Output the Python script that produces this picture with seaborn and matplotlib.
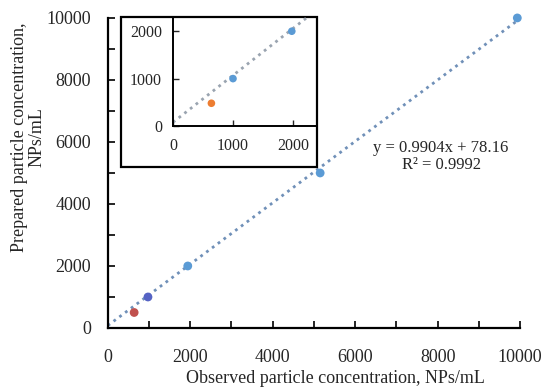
import matplotlib
matplotlib.use("Agg")
import matplotlib.pyplot as plt
import seaborn as sns
import numpy as np
import pandas as pd
from matplotlib.patches import Rectangle

sns.set_theme(style="ticks")
plt.rcParams['font.family'] = ['Liberation Serif', 'DejaVu Serif']

# data
observed = [640, 975, 1940, 5150, 9930]
prepared = [500, 1000, 2000, 5000, 10000]
point_colors = ["#C0504D", "#5563C4", "#5B9BD5", "#5B9BD5", "#5B9BD5"]
inset_observed = [640, 1000, 1980]
inset_prepared = [480, 1000, 2000]
inset_colors = ["#ED7D31", "#5B9BD5", "#5B9BD5"]
slope, intercept = 0.9904, 78.16
main_ticks = [0, 2000, 4000, 6000, 8000, 10000]
inset_ticks = [0, 1000, 2000]

df = pd.DataFrame({"obs": observed, "prep": prepared, "c": point_colors})
dfi = pd.DataFrame({"obs": inset_observed, "prep": inset_prepared, "c": inset_colors})

fig = plt.figure(figsize=(5.47, 3.90), dpi=100)
ax = fig.add_axes([0.197, 0.159, 0.754, 0.795])

lx = np.array([0, 10000])
sns.lineplot(x=lx, y=slope * lx + intercept, ax=ax, color="#7090B8",
             linestyle=(0, (1, 1.6)), linewidth=2.0, zorder=1)
sns.scatterplot(data=df, x="obs", y="prep", hue="c", palette={c: c for c in point_colors},
                legend=False, ax=ax, s=40, edgecolor="none", zorder=3, clip_on=False)
ax.set_xlim(0, 10000)
ax.set_ylim(0, 10000)
ax.set_xticks(main_ticks)
ax.set_yticks(main_ticks)
ax.set_xticks(np.arange(1000, 10000, 2000), minor=True)
ax.set_yticks(np.arange(1000, 10000, 2000), minor=True)
ax.tick_params(axis="both", which="both", direction="in", length=5, width=1.2,
               labelsize=13, color="black")
ax.tick_params(axis="x", which="major", pad=15)
ax.tick_params(axis="y", which="major", pad=12)
for s in ["top", "right"]:
    ax.spines[s].set_visible(False)
for s in ["left", "bottom"]:
    ax.spines[s].set_linewidth(1.6)
    ax.spines[s].set_color("black")
ax.set_xlabel("Observed particle concentration, NPs/mL", fontsize=13)
ax.xaxis.set_label_coords(0.553, -0.135)
ax.set_ylabel("Prepared particle concentration,\nNPs/mL", fontsize=13,
              linespacing=1.0)
ax.yaxis.set_label_coords(-0.152, 0.616)
fig.text(441 / 547, 1 - 148 / 390, "y = 0.9904x + 78.16", fontsize=12,
         ha="center", va="center")
fig.text(442 / 547, 1 - 165 / 390, "R² = 0.9992", fontsize=12,
         ha="center", va="center")

# inset frame
fig.patches.append(Rectangle((121 / 547, 1 - 167 / 390), (317 - 121) / 547, (167 - 17) / 390,
                             transform=fig.transFigure, fill=True, facecolor="white",
                             edgecolor="black", linewidth=1.6, zorder=5))
axi = fig.add_axes([173 / 547, 1 - 126 / 390, (317 - 173) / 547, (126 - 17) / 390], zorder=6)
axi.patch.set_alpha(0)
lx2 = np.array([0, 2600])
sns.lineplot(x=lx2, y=slope * lx2 + intercept, ax=axi, color="#9AA4B0",
             linestyle=(0, (1, 1.6)), linewidth=2.0, zorder=1)
sns.scatterplot(data=dfi, x="obs", y="prep", hue="c", palette={c: c for c in inset_colors},
                legend=False, ax=axi, s=30, edgecolor="none", zorder=3)
axi.set_xlim(0, 2400)
axi.set_ylim(0, 2300)
axi.set_xticks(inset_ticks)
axi.set_yticks(inset_ticks)
axi.tick_params(axis="both", direction="in", length=4, width=1.0, labelsize=11.5)
axi.tick_params(axis="x", pad=9)
axi.tick_params(axis="y", pad=8)
for s in ["top", "right"]:
    axi.spines[s].set_visible(False)
for s in ["left", "bottom"]:
    axi.spines[s].set_linewidth(1.4)
    axi.spines[s].set_color("black")
axi.set_xlabel("")
axi.set_ylabel("")

fig.savefig("out.png", dpi=100)
